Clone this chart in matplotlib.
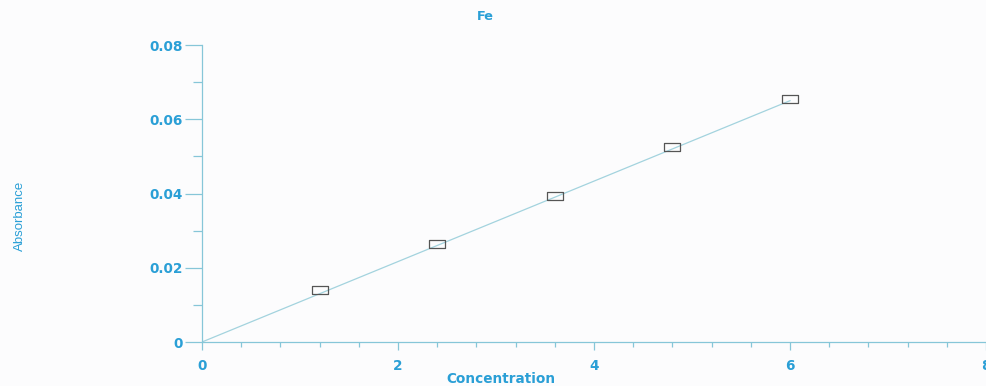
import numpy as np
import matplotlib
matplotlib.use("Agg")
import matplotlib.pyplot as plt
from matplotlib.ticker import MultipleLocator

# calibration standards
conc = [1.2, 2.4, 3.6, 4.8, 6.0]
absorb = [0.0140, 0.0264, 0.0393, 0.0525, 0.0655]

# fitted calibration line (through origin)
fit_x = [0.0, 6.0]
fit_y = [0.0, 0.0650]

xticks = [0, 2, 4, 6, 8]
yticks = [0, 0.02, 0.04, 0.06, 0.08]
ylabels = ["0", "0.02", "0.04", "0.06", "0.08"]

lbl = "#2a9fd6"
axc = "#86c6d8"

plt.rcParams['font.family'] = ['DejaVu Sans']

fig = plt.figure(figsize=(9.87, 3.86), dpi=100, facecolor="#fcfcfd")
ax = fig.add_axes([202/987, 44/386, 784/987, 297/386])
ax.set_facecolor("#fcfcfd")

ax.plot(fit_x, fit_y, color="#a3d3de", lw=0.9, zorder=2)
box = [(-1.8, -1), (1.8, -1), (1.8, 1), (-1.8, 1), (-1.8, -1)]
ax.plot(conc, absorb, ls="none", marker=box, markersize=11.5,
        mfc="none", mec="#555555", mew=0.9, zorder=3)

ax.set_xlim(0, 8)
ax.set_ylim(0, 0.08)
ax.set_xticks(xticks)
ax.set_yticks(yticks)
ax.set_yticklabels(ylabels)
ax.xaxis.set_minor_locator(MultipleLocator(0.4))
ax.yaxis.set_minor_locator(MultipleLocator(0.01))

for s in ["top", "right"]:
    ax.spines[s].set_visible(False)
for s in ["left", "bottom"]:
    ax.spines[s].set_color(axc)
    ax.spines[s].set_linewidth(0.9)

ax.tick_params(which="major", axis="y", length=12, width=0.9, color=axc,
               labelcolor=lbl, labelsize=9.8, pad=1.5)
ax.tick_params(which="minor", axis="y", length=6.5, width=0.9, color=axc)
ax.tick_params(which="major", axis="x", length=6, width=0.9, color=axc,
               labelcolor=lbl, labelsize=9.8, pad=6.5)
ax.tick_params(which="minor", axis="x", length=3.6, width=0.9, color=axc)
for t in ax.get_xticklabels() + ax.get_yticklabels():
    t.set_fontweight("bold")

fig.text(485/987, 1 - 17/386, "Fe", color=lbl, fontsize=9.3,
         fontweight="bold", ha="center", va="center")
fig.text(501/987, 1 - 379/386, "Concentration", color=lbl, fontsize=9.8,
         fontweight="bold", ha="center", va="center")
fig.text(20/987, 1 - 216/386, "Absorbance", color=lbl, fontsize=9.5,
         family="Liberation Sans", rotation=90, ha="center", va="center")

fig.savefig("out.png", dpi=100, facecolor=fig.get_facecolor())
